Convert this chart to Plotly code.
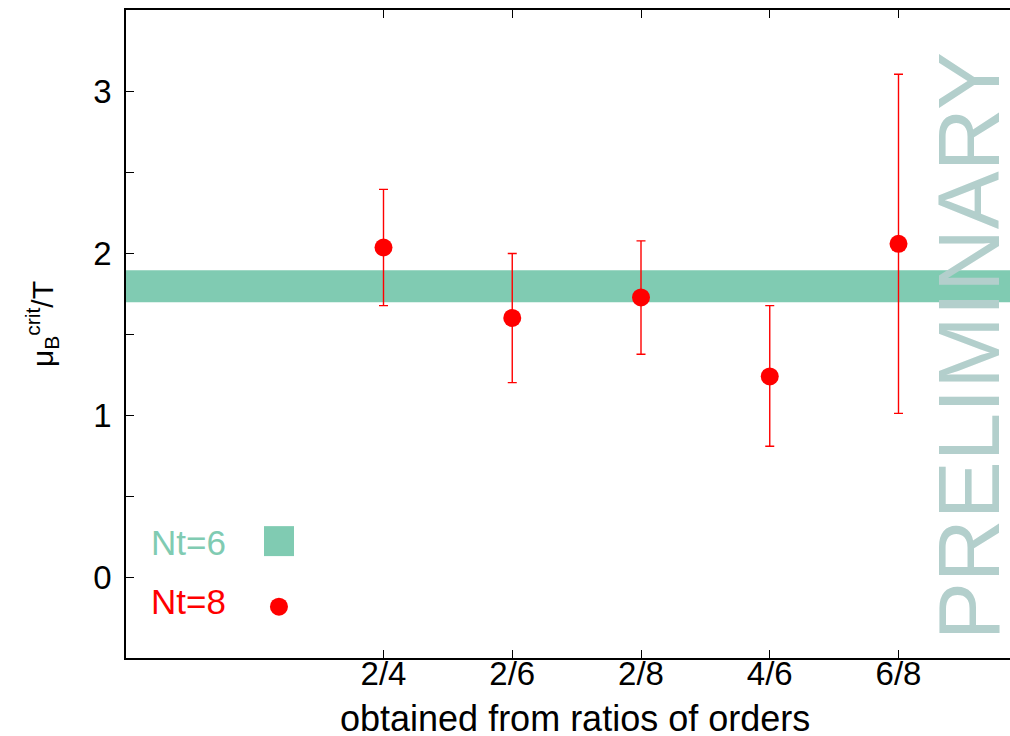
import plotly.graph_objects as go

# ---- data ----
categories = ["2/4", "2/6", "2/8", "4/6", "6/8"]
x_pos = [2, 3, 4, 5, 6]
nt8_val = [2.034, 1.599, 1.726, 1.238, 2.057]
nt8_upper = [2.393, 1.997, 2.075, 1.675, 3.103]
nt8_lower = [1.675, 1.200, 1.375, 0.807, 1.010]
nt6_band = [1.696, 1.893]  # lower, upper

y_tickvals = [0, 0.5, 1, 1.5, 2, 2.5, 3]
y_ticktext = ["0", "", "1", "", "2", "", "3"]

RED = "#ff0000"
TEAL = "#80cbb2"
FONT = "Liberation Sans"

err_plus = [u - v for u, v in zip(nt8_upper, nt8_val)]
err_minus = [v - l for v, l in zip(nt8_val, nt8_lower)]

fig = go.Figure()
fig.add_trace(go.Scatter(
    x=x_pos, y=nt8_val, mode="markers",
    marker=dict(color=RED, size=18, symbol="circle"),
    error_y=dict(type="data", symmetric=False, array=err_plus, arrayminus=err_minus,
                 color=RED, thickness=1.4, width=4.5),
    showlegend=False, name="Nt=8",
))

shapes = [
    dict(type="rect", xref="paper", yref="y", x0=0, x1=1,
         y0=nt6_band[0], y1=nt6_band[1], fillcolor=TEAL, line=dict(width=0), layer="below"),
    # legend keys
    dict(type="rect", xref="x", yref="y", x0=1.072, x1=1.305, y0=0.129, y1=0.314,
         fillcolor=TEAL, line=dict(width=0)),
    dict(type="circle", xref="x", yref="y", xsizemode="pixel", ysizemode="pixel",
         xanchor=1.188, yanchor=-0.183, x0=-9, x1=9, y0=-9, y1=9,
         fillcolor=RED, line=dict(width=0)),
]

annotations = [
    dict(text="Nt=6", xref="paper", yref="y", x=(149 - 126) / 884, y=0.215,
         xanchor="left", yanchor="middle", showarrow=False,
         font=dict(family=FONT, size=35, color=TEAL)),
    dict(text="Nt=8", xref="paper", yref="y", x=(149 - 126) / 884, y=-0.15,
         xanchor="left", yanchor="middle", showarrow=False,
         font=dict(family=FONT, size=35, color=RED)),
    dict(text="PRELIMINARY", xref="x", yref="y", x=6.54, y=1.425,
         xanchor="center", yanchor="middle", textangle=-90, showarrow=False,
         font=dict(family=FONT, size=87, color="#b3cfcc")),
    dict(text="μ<sub>B</sub><sup>crit</sup>/T", xref="paper", yref="paper",
         x=(42 - 126) / 884, y=(658 - 324) / 648, xanchor="center", yanchor="middle",
         textangle=-90, showarrow=False,
         font=dict(family=FONT, size=30, color="black")),
    dict(text="obtained from ratios of orders", xref="paper", yref="paper",
         x=(575 - 126) / 884, y=(658 - 718) / 648, xanchor="center", yanchor="middle",
         showarrow=False, font=dict(family=FONT, size=36, color="black")),
]

fig.update_layout(
    width=1010, height=736,
    margin=dict(l=126, r=0, t=10, b=78),
    paper_bgcolor="white", plot_bgcolor="white",
    font=dict(family=FONT, size=34, color="black"),
    shapes=shapes, annotations=annotations,
    xaxis=dict(range=[0, 6.866], tickvals=x_pos, ticktext=categories,
               ticks="inside", ticklen=8, tickwidth=1.3, tickcolor="black",
               showline=True, linecolor="black", linewidth=1.5, mirror="ticks",
               showgrid=False, zeroline=False, automargin=False,
               ticklabelstandoff=-14,
               tickfont=dict(family=FONT, size=33)),
    yaxis=dict(range=[-0.5, 3.5], tickvals=y_tickvals, ticktext=y_ticktext,
               ticks="inside", ticklen=8, tickwidth=1.3, tickcolor="black",
               showline=True, linecolor="black", linewidth=1.5, mirror=False,
               showgrid=False, zeroline=False, automargin=False,
               ticklabelstandoff=6,
               tickfont=dict(family=FONT, size=33)),
)

fig.write_html("out.html", config={"displayModeBar": False},
               post_script="document.body.style.margin='0px';document.body.style.overflow='hidden';")
